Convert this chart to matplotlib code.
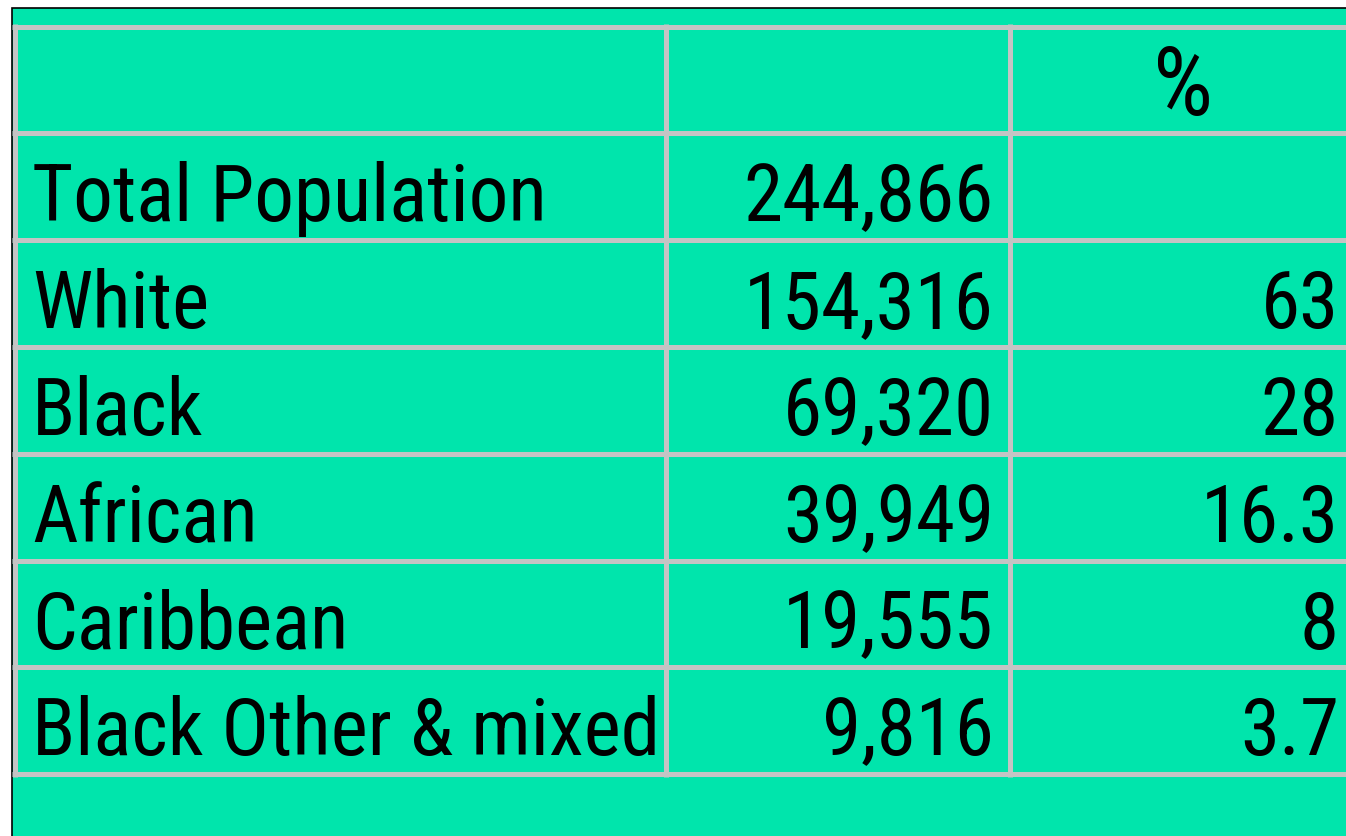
import matplotlib
matplotlib.use("Agg")
import matplotlib.pyplot as plt
from matplotlib.patches import Rectangle
from matplotlib import font_manager

categories = ["Total Population", "White", "Black", "African", "Caribbean", "Black Other & mixed"]
counts = ["244,866", "154,316", "69,320", "39,949", "19,555", "9,816"]
percents = ["", "63", "28", "16.3", "8", "3.7"]
header = ["", "", "%"]

W, H = 1346, 836
fig = plt.figure(figsize=(W / 100, H / 100), dpi=100)
ax = fig.add_axes([0, 0, 1, 1])
ax.set_xlim(0, W)
ax.set_ylim(H, 0)
ax.axis("off")

names = {f.name for f in font_manager.fontManager.ttflist}
fam = [f for f in ["Liberation Sans Narrow", "Roboto Condensed", "PT Sans Narrow", "Archivo Narrow",
                   "Liberation Sans", "DejaVu Sans"] if f in names]

# fit font size to the reference widths of two labels
renderer = fig.canvas.get_renderer()
def width(s, size):
    t = ax.text(0, 0, s, fontsize=size, family=fam)
    w = t.get_window_extent(renderer).width
    t.remove()
    return w
fs = 1.02 * 60 * (491 + 631) / (width(categories[0], 60) + width(categories[-1], 60))

green = "#00E5AC"
grid = "#C4C4C4"

ax.add_patch(Rectangle((12, 8), W + 20, H + 20, facecolor=green, edgecolor="black", linewidth=1.2, zorder=1))

top = 26.5
step = 106.8
col_x = [14.5, 665.5, 1009.5, 1356]
nrows = len(categories) + 1
row_y = [top + i * step for i in range(nrows + 1)]

lw = 5 * 72 / 100
for y in row_y:
    ax.plot([col_x[0] - 2.5, W + 10], [y, y], color=grid, linewidth=lw, solid_capstyle="butt", zorder=5)
for x in col_x[:3]:
    ax.plot([x, x], [row_y[0] - 2.5, row_y[-1] + 2.5], color=grid, linewidth=lw, solid_capstyle="butt", zorder=5)

base_off = 88
ax.text((col_x[2] + col_x[3]) / 2, row_y[0] + base_off + 1, header[2], ha="center", va="baseline",
        fontsize=fs * 1.2, family=fam, color="black", zorder=3)

for i, (c, n, p) in enumerate(zip(categories, counts, percents)):
    yb = row_y[i + 1] + base_off
    ax.text(32, yb, c, ha="left", va="baseline", fontsize=fs, family=fam, color="black", zorder=3)
    ax.text(994, yb, n, ha="right", va="baseline", fontsize=fs, family=fam, color="black", zorder=3)
    if p:
        ax.text(1339, yb, p, ha="right", va="baseline", fontsize=fs, family=fam, color="black", zorder=3)

fig.savefig("out.png", dpi=100, facecolor="white")
